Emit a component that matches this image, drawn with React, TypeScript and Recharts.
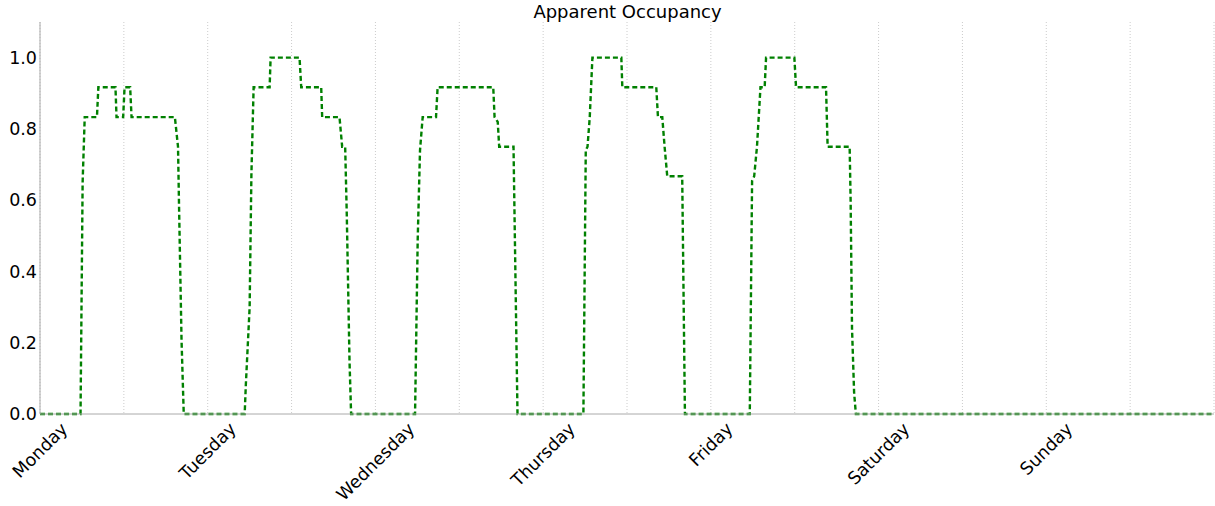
import React from "react";
import { LineChart, Line, XAxis, YAxis, CartesianGrid } from "recharts";

// Day names shown under the x axis (one tick every 24 h)
const dayNames = ["Monday", "Tuesday", "Wednesday", "Thursday", "Friday", "Saturday", "Sunday"];

// Breakpoints per weekday: [hour of day, apparent occupancy]
const mondayPoints: [number, number][] = [
  [0, 0], [5.8, 0], [6.1, 0.65], [6.4, 0.833], [8.15, 0.833], [8.35, 0.917],
  [10.8, 0.917], [10.95, 0.833], [11.9, 0.833], [12.1, 0.917], [12.9, 0.917],
  [13.1, 0.833], [19.3, 0.833], [19.75, 0.75], [19.9, 0.58], [20.25, 0.21], [20.57, 0],
];
const tuesdayPoints: [number, number][] = [
  [5.29, 0], [5.45, 0.08], [6.0, 0.3], [6.25, 0.67], [6.57, 0.917], [8.86, 0.917],
  [9.0, 1.0], [13.14, 1.0], [13.38, 0.917], [16.24, 0.917], [16.38, 0.833],
  [18.86, 0.833], [19.24, 0.75], [19.67, 0.75], [19.9, 0.56], [20.29, 0.15], [20.52, 0],
];
const wednesdayPoints: [number, number][] = [
  [5.67, 0], [6.05, 0.49], [6.38, 0.74], [6.76, 0.833], [8.67, 0.833], [8.9, 0.917],
  [16.86, 0.917], [17.05, 0.833], [17.5, 0.82], [17.71, 0.75], [19.76, 0.75], [20.33, 0],
];
const thursdayPoints: [number, number][] = [
  [5.76, 0], [6.1, 0.74], [6.35, 0.75], [6.67, 0.833], [7.05, 1.0], [11.19, 1.0],
  [11.33, 0.917], [16.19, 0.917], [16.43, 0.833], [17.05, 0.833], [17.38, 0.75],
  [17.76, 0.667], [19.9, 0.667], [20.29, 0],
];
const fridayPoints: [number, number][] = [
  [5.57, 0], [5.9, 0.654], [6.2, 0.667], [6.6, 0.75], [7.1, 0.917], [7.7, 0.917],
  [7.9, 1.0], [11.95, 1.0], [12.19, 0.917], [16.48, 0.917], [16.71, 0.75],
  [19.86, 0.75], [20.0, 0.6], [20.2, 0.24], [20.5, 0.06], [20.75, 0],
];
const weekendPoints: [number, number][] = [[168, 0]];

const yTicks = [0, 0.2, 0.4, 0.6, 0.8, 1.0];
const xGridHours = [0, 12, 24, 36, 48, 60, 72, 84, 96, 108, 120, 132, 144, 156, 168];

const weekdays = [mondayPoints, tuesdayPoints, wednesdayPoints, thursdayPoints, fridayPoints];
const data = [
  ...weekdays.flatMap((pts, d) => pts.map(([h, v]) => ({ hour: d * 24 + h, occupancy: v }))),
  ...weekendPoints.map(([h, v]) => ({ hour: h, occupancy: v })),
];

const FONT = "'DejaVu Sans', sans-serif";
const TICK_SIZE = 17.5;
const AXIS_COLOR = "#aaaaaa";

let measureCtx: CanvasRenderingContext2D | null = null;
const textWidth = (text: string) => {
  if (!measureCtx) measureCtx = document.createElement("canvas").getContext("2d");
  if (!measureCtx) return text.length * TICK_SIZE * 0.6;
  measureCtx.font = `${TICK_SIZE}px ${FONT}`;
  return measureCtx.measureText(text).width;
};

// Rotated day label, centred under its tick like matplotlib's rotation=45, ha="center"
const DayTick = (props: any) => {
  const { x, y, payload } = props;
  const h = payload.value as number;
  if (h % 24 !== 0 || h >= 168) return <g />;
  const label = dayNames[h / 24];
  const w = textWidth(label);
  const cy = y + 5 + (w + TICK_SIZE * 1.1) * 0.3536;
  return (
    <text
      x={x}
      y={cy}
      textAnchor="middle"
      dominantBaseline="central"
      fontSize={TICK_SIZE}
      fontFamily={FONT}
      fill="#000"
      transform={`rotate(-45, ${x}, ${cy})`}
    >
      {label}
    </text>
  );
};

export default function App() {
  return (
    <div
      style={{
        position: "absolute",
        left: 0,
        top: 0,
        width: 1215,
        height: 506,
        background: "#fff",
      }}
    >
      <svg
        width={1215}
        height={24}
        style={{ position: "absolute", left: 0, top: 0, pointerEvents: "none" }}
      >
        <text x={627.5} y={18} textAnchor="middle" fontSize={18} fontFamily={FONT} fill="#000">
          Apparent Occupancy
        </text>
      </svg>
      <LineChart
        width={1215}
        height={506}
        data={data}
        margin={{ top: 22, right: 1, left: 0, bottom: 0 }}
      >
        <CartesianGrid
          horizontal={false}
          vertical
          stroke="#cccccc"
          strokeDasharray="1 2"
        />
        <XAxis
          dataKey="hour"
          type="number"
          domain={[0, 168]}
          ticks={xGridHours}
          interval={0}
          height={92}
          tickLine={false}
          tickSize={0}
          tickMargin={0}
          axisLine={{ stroke: AXIS_COLOR }}
          tick={<DayTick />}
        />
        <XAxis
          xAxisId="top"
          orientation="top"
          type="number"
          domain={[0, 168]}
          height={0}
          tick={false}
          tickLine={false}
          axisLine={{ stroke: AXIS_COLOR }}
        />
        <YAxis
          type="number"
          domain={[0, 1.1]}
          ticks={yTicks}
          width={40}
          tickLine={false}
          tickSize={0}
          tickMargin={3}
          axisLine={{ stroke: AXIS_COLOR }}
          tickFormatter={(v: number) => v.toFixed(1)}
          tick={{ fill: "#000", fontSize: TICK_SIZE, fontFamily: FONT }}
        />
        <YAxis
          yAxisId="right"
          orientation="right"
          type="number"
          domain={[0, 1.1]}
          width={0}
          tick={false}
          tickLine={false}
          axisLine={{ stroke: AXIS_COLOR }}
        />
        <Line
          type="linear"
          dataKey="occupancy"
          stroke="#008000"
          strokeWidth={2.4}
          strokeDasharray="5 3"
          dot={false}
          activeDot={false}
          isAnimationActive={false}
        />
      </LineChart>
    </div>
  );
}
